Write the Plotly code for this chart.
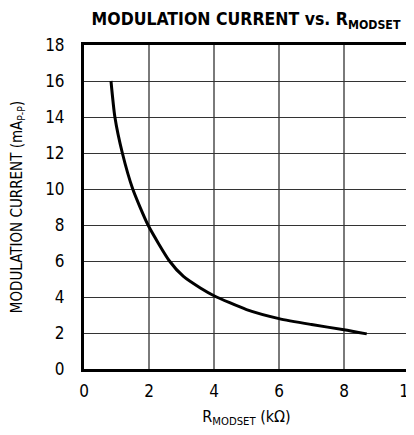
import plotly.graph_objects as go

# Data
r_modset = [0.83, 0.95, 1.18, 1.5, 1.97, 2.63, 3.06, 3.58, 4.0, 5.0, 6.0, 7.0, 8.0, 8.7]
mod_current = [16.0, 14.0, 12.0, 10.0, 8.0, 6.0, 5.14, 4.5, 4.07, 3.3, 2.8, 2.47, 2.18, 1.95]

x_ticks = [0, 2, 4, 6, 8, 10]
y_ticks = [0, 2, 4, 6, 8, 10, 12, 14, 16, 18]

FONT = "DejaVu Sans Condensed, Liberation Sans Narrow, Arial Narrow, sans-serif"

# The page body has an 8px margin, so the figure is sized to fit the window.
W, H = 406, 427

fig = go.Figure()
fig.add_trace(go.Scatter(
    x=r_modset, y=mod_current, mode="lines",
    line=dict(color="black", width=3, shape="spline", smoothing=0.6),
    hoverinfo="skip", showlegend=False,
))

fig.update_layout(
    width=W, height=H,
    margin=dict(l=76, r=5, t=37, b=66),
    paper_bgcolor="white", plot_bgcolor="white",
    font=dict(family=FONT, size=16, color="black"),
    title=dict(
        text="<b>MODULATION CURRENT vs. R<sub>MODSET</sub></b>",
        x=238 / W, xanchor="center", y=1 - 11 / H, yanchor="middle",
        font=dict(family=FONT, size=17.5, color="black"),
    ),
)

fig.update_xaxes(
    range=[0, 10], tickvals=x_ticks, ticktext=[str(v) for v in x_ticks],
    showgrid=True, gridcolor="#7a7a7a", gridwidth=1.5,
    showline=True, linecolor="black", linewidth=3, mirror=True,
    ticks="", ticklabelstandoff=5, zeroline=False, automargin=False,
    ticklabeloverflow="allow",
    tickfont=dict(family=FONT, size=17),
    title=dict(text="R<sub>MODSET</sub> (kΩ)", standoff=11,
               font=dict(family=FONT, size=16)),
)
fig.update_yaxes(
    range=[0, 18], tickvals=y_ticks, ticktext=[str(v) for v in y_ticks],
    showgrid=True, gridcolor="#333333", gridwidth=1,
    showline=True, linecolor="black", linewidth=3, mirror=True,
    ticks="", ticklabelstandoff=13, zeroline=False, automargin=False,
    tickfont=dict(family=FONT, size=17),
    title=dict(text="MODULATION CURRENT (mA<sub>P-P</sub>)", standoff=20,
               font=dict(family=FONT, size=15)),
)

fig.write_html("out.html")
